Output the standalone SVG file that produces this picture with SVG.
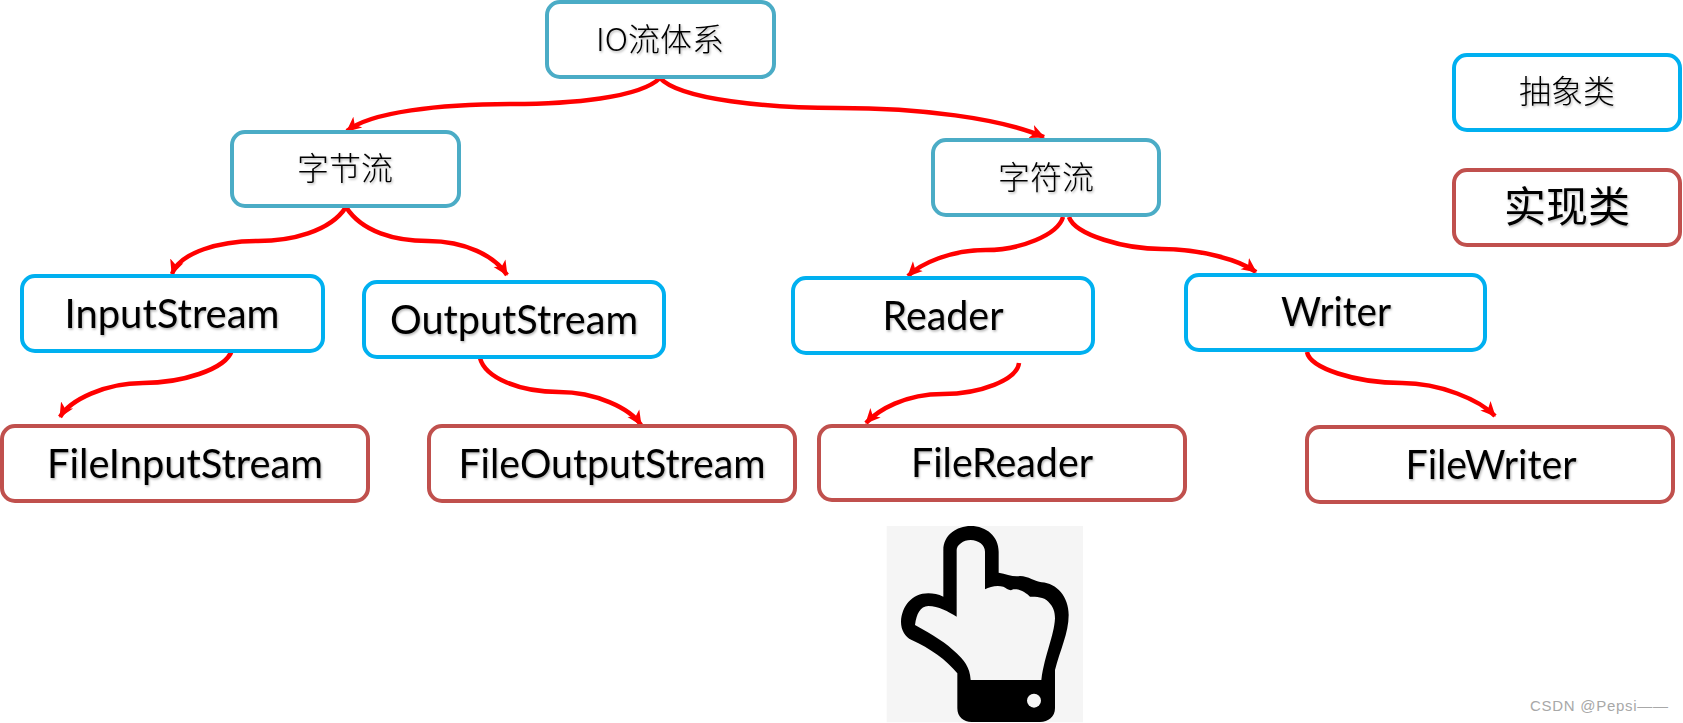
<svg xmlns="http://www.w3.org/2000/svg" width="1683" height="723" viewBox="0 0 1683 723">
<style>
.b{fill:#fff;stroke-width:4px}
.t{stroke:#4bacc6}.a{stroke:#00b0f0}.r{stroke:#c0504d}
.l{font-family:Lato,"Liberation Sans",sans-serif;font-size:40px;fill:#000;text-anchor:middle;filter:url(#s)}
.c{font-family:"Noto Sans CJK SC",sans-serif;font-size:32px;font-weight:300;fill:#000;text-anchor:middle;filter:url(#s)}
.e{fill:none;stroke:#f00;stroke-width:4.5px;marker-end:url(#m)}
</style>
<defs>
<marker id="m" markerUnits="userSpaceOnUse" markerWidth="17" markerHeight="16" refX="14" refY="8" orient="auto"><path d="M0 1L15 8L0 15L4 8Z" fill="#f00"/></marker>
<filter id="s" x="-5%" y="-10%" width="110%" height="125%"><feDropShadow dx="1" dy="1.5" stdDeviation="0.8" flood-color="#000" flood-opacity="0.3"/></filter>
</defs>
<rect width="1683" height="723" fill="#fff"/>
<g id="connectors">
<path class="e" d="M660 78C640 98 570 104 512 104C440 104 370 112 347 131"/>
<path class="e" d="M660 78C680 100 770 108 838 108C920 108 1000 118 1044 137"/>
<path class="e" d="M346 207C330 232 290 241 258 241C220 241 180 252 172 274"/>
<path class="e" d="M346 207C362 232 395 241 428 241C465 241 495 256 507 275"/>
<path class="e" d="M232 350C226 370 180 383 143 383C105 383 70 400 60 417"/>
<path class="e" d="M480 358C485 378 520 392 559 392C595 392 630 408 641 425"/>
<path class="e" d="M1063 217C1058 235 1020 250 986 250C950 250 920 264 908 276"/>
<path class="e" d="M1069 217C1075 235 1125 249 1162 249C1200 249 1240 260 1256 272"/>
<path class="e" d="M1019 363C1017 380 980 394 943 394C905 394 878 410 866 423"/>
<path class="e" d="M1307 352C1310 368 1355 383 1402 383C1440 383 1480 400 1495 416"/>
</g>
<g id="n-io"><rect class="b t" x="547" y="2" width="227" height="75" rx="13"/><text class="c" x="660" y="51">IO流体系</text></g>
<g id="n-byte"><rect class="b t" x="232" y="132" width="227" height="74" rx="13"/><text class="c" x="345" y="180">字节流</text></g>
<g id="n-char"><rect class="b t" x="933" y="140" width="226" height="75" rx="13"/><text class="c" x="1046" y="189">字符流</text></g>
<g id="n-abstract"><rect class="b a" x="1454" y="55" width="226" height="75" rx="13"/><text class="c" x="1567" y="103">抽象类</text></g>
<g id="n-impl"><rect class="b r" x="1454" y="170" width="226" height="75" rx="13"/><text class="c" x="1567" y="222" style="font-size:42px;font-weight:400">实现类</text></g>
<g id="n-input"><rect class="b a" x="22" y="276" width="301" height="75" rx="13"/><text class="l" x="172" y="328" textLength="215" lengthAdjust="spacingAndGlyphs">InputStream</text></g>
<g id="n-output"><rect class="b a" x="364" y="282" width="300" height="75" rx="13"/><text class="l" x="514" y="334" textLength="248" lengthAdjust="spacingAndGlyphs">OutputStream</text></g>
<g id="n-reader"><rect class="b a" x="793" y="278" width="300" height="75" rx="13"/><text class="l" x="943" y="330" textLength="121" lengthAdjust="spacingAndGlyphs">Reader</text></g>
<g id="n-writer"><rect class="b a" x="1186" y="275" width="299" height="75" rx="13"/><text class="l" x="1336" y="326" textLength="110" lengthAdjust="spacingAndGlyphs">Writer</text></g>
<g id="n-fis"><rect class="b r" x="2" y="426" width="366" height="75" rx="13"/><text class="l" x="185" y="478" textLength="276" lengthAdjust="spacingAndGlyphs">FileInputStream</text></g>
<g id="n-fos"><rect class="b r" x="429" y="426" width="366" height="75" rx="13"/><text class="l" x="612" y="478" textLength="307" lengthAdjust="spacingAndGlyphs">FileOutputStream</text></g>
<g id="n-fr"><rect class="b r" x="819" y="426" width="366" height="74" rx="13"/><text class="l" x="1002" y="477" textLength="182" lengthAdjust="spacingAndGlyphs">FileReader</text></g>
<g id="n-fw"><rect class="b r" x="1307" y="427" width="366" height="75" rx="13"/><text class="l" x="1491" y="479" textLength="171" lengthAdjust="spacingAndGlyphs">FileWriter</text></g>
<g id="hand" transform="translate(840 500) scale(.33333)">
<rect x="140" y="78" width="589" height="589" fill="#f5f5f5"/>
<path fill-rule="evenodd" d="M310 290V150C310 105 350 78 392 78C440 78 476 110 476 155V218C500 222 520 232 540 228C565 228 585 245 605 247C650 250 686 290 686 345C686 400 660 450 645 510V625C645 650 625 666 600 666H395C370 666 352 650 352 625V520C320 480 270 445 215 420C195 410 183 390 183 365C185 320 215 280 265 280C280 280 295 282 310 290ZM350 350V150C350 135 370 120 392 120C415 120 435 135 435 155V268C450 260 470 255 490 260C500 265 510 275 520 268C540 265 560 280 570 290C590 290 610 290 625 305C640 320 645 335 645 355C642 410 615 460 604 540H392C390 500 370 480 350 460C320 430 280 405 225 375C230 340 240 320 265 318C295 318 325 335 350 350Z"/>
<circle cx="582" cy="602" r="21" fill="#f5f5f5"/>
</g>
<text x="1530" y="711" font-family="Liberation Sans, sans-serif" font-size="15" fill="#a8a8a8" textLength="138" lengthAdjust="spacing">CSDN @Pepsi——</text>
</svg>
